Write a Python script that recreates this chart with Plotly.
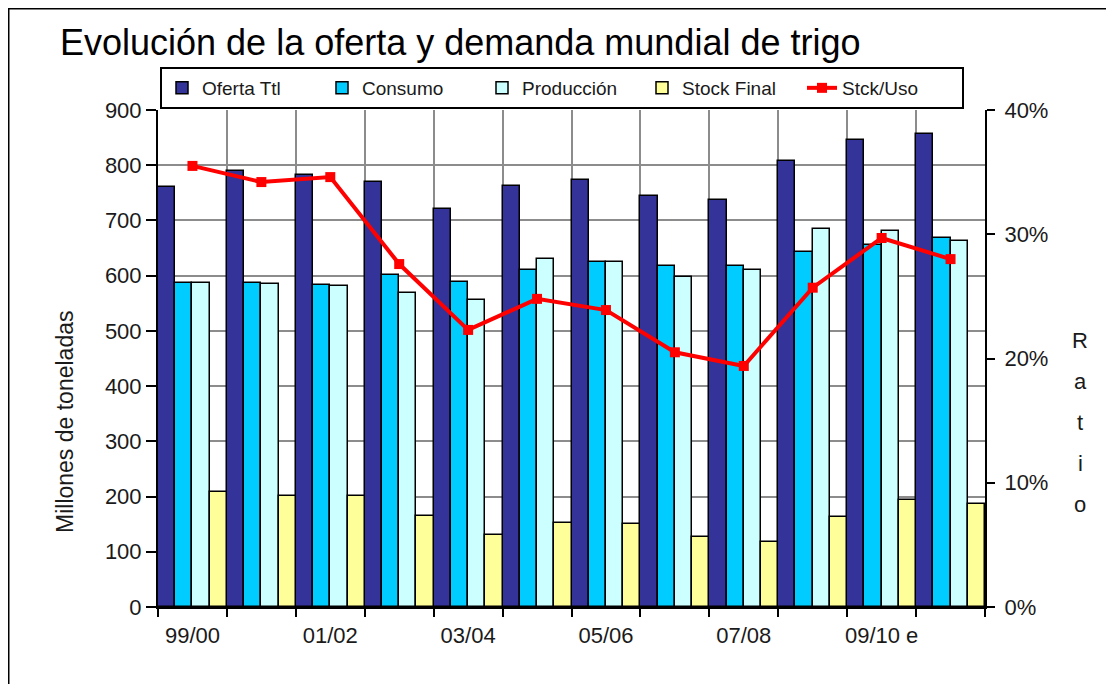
import plotly.graph_objects as go

# ---- data ----
categories = ["99/00", "00/01", "01/02", "02/03", "03/04", "04/05",
              "05/06", "06/07", "07/08", "08/09", "09/10 e", "10/11 p"]
tick_labels = ["99/00", "", "01/02", "", "03/04", "", "05/06", "", "07/08", "", "09/10 e", ""]
oferta_ttl = [761, 790, 782, 770, 720, 762, 773, 744, 737, 808, 846, 857]
consumo = [586, 586, 583, 602, 589, 610, 624, 617, 617, 643, 655, 669]
produccion = [586, 585, 582, 569, 556, 630, 624, 598, 610, 684, 681, 663]
stock_final = [208, 201, 201, 165, 130, 153, 150, 127, 118, 163, 194, 186]
stck_uso = [0.355, 0.342, 0.346, 0.276, 0.223, 0.248, 0.239, 0.205, 0.194, 0.257, 0.297, 0.280]
ratio_letters = ["R", "a", "t", "i", "o"]
y_title = "Millones de toneladas"

FONT = "Liberation Sans, Arial, sans-serif"
TXT = "#1a1a1a"
GRID = "#8c8c8c"

# page is offset by the 8px body margin: positions below are reference pixels minus 8
W, H = 1114, 684
L, R, T, B = 150, 137, 102, 85
PW, PH = W - L - R, H - T - B


def px(xr):
    return (xr - 8 - L) / PW


def py(yr):
    return 1 - (yr - 8 - T) / PH


fig = go.Figure()
bar_specs = [
    ("Oferta Ttl", oferta_ttl, "#333399"),
    ("Consumo", consumo, "#00CCFF"),
    ("Producción", produccion, "#CCFFFF"),
    ("Stock Final", stock_final, "#FFFF99"),
]
for name, vals, col in bar_specs:
    fig.add_trace(go.Bar(
        x=categories, y=vals, name=name,
        marker=dict(color=col, line=dict(color="black", width=1.5)),
    ))

fig.add_trace(go.Scatter(
    x=categories, y=stck_uso, name="Stck/Uso", yaxis="y2",
    mode="lines+markers",
    line=dict(color="#FF0000", width=4),
    marker=dict(symbol="square", size=10, color="#FF0000"),
))

fig.update_layout(
    width=W, height=H,
    paper_bgcolor="white", plot_bgcolor="white",
    margin=dict(l=L, r=R, t=T, b=B),
    barmode="group", bargap=0, bargroupgap=0,
    font=dict(family=FONT, color=TXT, size=20),
    title=dict(
        text="Evolución de la oferta y demanda mundial de trigo",
        x=(60 - 8) / W, xref="container", xanchor="left",
        y=1 - (42 - 8) / H, yref="container", yanchor="middle",
        font=dict(family=FONT, size=36, color="black"),
    ),
    showlegend=True,
    legend=dict(
        orientation="h", x=px(160), xanchor="left", y=py(109), yanchor="bottom",
        bgcolor="white", bordercolor="black", borderwidth=2,
        font=dict(family=FONT, size=19, color=TXT),
        traceorder="normal", itemwidth=30,
        entrywidth=115, entrywidthmode="pixels",
    ),
    xaxis=dict(
        type="category", categoryorder="array", categoryarray=categories,
        tickmode="array", tickvals=categories, ticktext=tick_labels,
        tickson="boundaries", tickangle=0, ticklabelstandoff=8,
        showline=True, linecolor="black", linewidth=2,
        ticks="outside", ticklen=8, tickwidth=2, tickcolor="black",
        showgrid=True, gridcolor=GRID, gridwidth=1.5,
        tickfont=dict(family=FONT, size=22, color=TXT),
        range=[-0.5, 11.5],
    ),
    yaxis=dict(
        range=[0, 900], dtick=100,
        showline=True, linecolor="black", linewidth=2,
        ticks="outside", ticklen=10, tickwidth=2, tickcolor="black",
        showgrid=True, gridcolor=GRID, gridwidth=1.5,
        tickfont=dict(family=FONT, size=22, color=TXT),
        zeroline=False,
    ),
    yaxis2=dict(
        overlaying="y", side="right", range=[0, 0.4], dtick=0.1, tickformat=".0%",
        showline=True, linecolor="black", linewidth=2,
        ticks="outside", ticklen=8, tickwidth=2, tickcolor="black",
        ticklabelstandoff=5,
        showgrid=False, zeroline=False,
        tickfont=dict(family=FONT, size=22, color=TXT),
    ),
)

# left axis title (placed lower than centre, as in the original)
fig.add_annotation(
    text=y_title, xref="paper", yref="paper", x=px(65), y=py(422),
    showarrow=False, textangle=-90, xanchor="center", yanchor="middle",
    font=dict(family=FONT, size=23, color=TXT),
)

# stacked letters for the right axis title
ys = [340, 381, 422, 463, 504]
for letter, yy in zip(ratio_letters, ys):
    fig.add_annotation(
        text=letter, xref="paper", yref="paper", x=px(1080), y=py(yy),
        showarrow=False, xanchor="center", yanchor="middle",
        font=dict(family=FONT, size=22, color=TXT),
    )

# outer frame (left and top edges)
fig.add_shape(type="line", xref="paper", yref="paper",
              x0=px(8), x1=px(1122), y0=py(8), y1=py(8),
              line=dict(color="black", width=3))
fig.add_shape(type="line", xref="paper", yref="paper",
              x0=px(8), x1=px(8), y0=py(8), y1=py(700),
              line=dict(color="black", width=3))

fig.write_html("out.html")
